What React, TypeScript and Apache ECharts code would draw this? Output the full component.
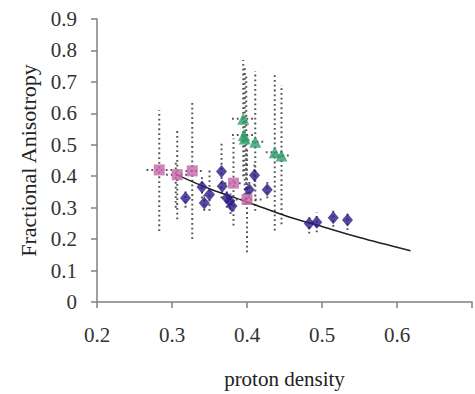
import React, { useEffect, useRef } from "react";
import * as echarts from "echarts";

// x, y values
const blueDiamonds: [number, number][] = [
  [0.318, 0.331], [0.34, 0.366], [0.35, 0.342], [0.343, 0.315],
  [0.366, 0.415], [0.367, 0.368], [0.373, 0.331], [0.377, 0.321],
  [0.38, 0.305], [0.41, 0.403], [0.403, 0.357], [0.427, 0.357],
  [0.483, 0.25], [0.493, 0.254], [0.515, 0.268], [0.534, 0.261],
];
const pinkSquares: [number, number][] = [
  [0.283, 0.42], [0.307, 0.405], [0.327, 0.417], [0.382, 0.378], [0.4, 0.326],
];
const greenTriangles: [number, number][] = [
  [0.395, 0.583], [0.396, 0.531], [0.397, 0.52], [0.411, 0.51], [0.437, 0.476], [0.446, 0.466],
];
// vertical error bars: x, low, high
const vBars: [number, number, number][] = [
  [0.283, 0.226, 0.61], [0.307, 0.263, 0.552], [0.305, 0.3, 0.45], [0.327, 0.2, 0.634],
  [0.382, 0.243, 0.52], [0.4, 0.158, 0.49],
  [0.395, 0.4, 0.77], [0.397, 0.31, 0.75], [0.399, 0.33, 0.72], [0.411, 0.29, 0.735],
  [0.437, 0.227, 0.725], [0.446, 0.247, 0.69],
  [0.318, 0.3, 0.36], [0.34, 0.33, 0.405], [0.35, 0.29, 0.42], [0.343, 0.29, 0.34],
  [0.366, 0.33, 0.505], [0.373, 0.3, 0.36], [0.378, 0.28, 0.345],
  [0.41, 0.37, 0.44], [0.403, 0.33, 0.385], [0.427, 0.33, 0.39],
  [0.483, 0.218, 0.273], [0.493, 0.222, 0.285], [0.515, 0.239, 0.297], [0.534, 0.229, 0.289],
];
// horizontal error bars: y, low, high
const hBars: [number, number, number][] = [
  [0.42, 0.266, 0.3], [0.405, 0.292, 0.322], [0.417, 0.318, 0.34],
  [0.583, 0.38, 0.41], [0.531, 0.38, 0.412], [0.51, 0.4, 0.425],
  [0.476, 0.425, 0.45], [0.466, 0.434, 0.458],
  [0.378, 0.37, 0.395], [0.326, 0.385, 0.42],
];
// fitted curve
const fitLine: [number, number][] = [
  [0.306, 0.405], [0.35, 0.36], [0.404, 0.315], [0.454, 0.272],
  [0.5, 0.24], [0.55, 0.205], [0.618, 0.163],
];
const xTicks = [0.2, 0.3, 0.4, 0.5, 0.6];
const yTicks = [0, 0.1, 0.2, 0.3, 0.4, 0.5, 0.6, 0.7, 0.8, 0.9];

const FONT = "'Liberation Serif', 'DejaVu Serif', serif";

export default function App() {
  const ref = useRef<HTMLDivElement>(null);
  useEffect(() => {
    if (!ref.current) return;
    const chart = echarts.init(ref.current, undefined, { renderer: "svg" });
    const dotStyle = { stroke: "#555", lineWidth: 2, lineDash: [1.8, 3] };
    chart.setOption({
      animation: false,
      backgroundColor: "#fff",
      grid: { left: 97, top: 19, right: -22, bottom: 89 },
      xAxis: {
        type: "value",
        min: xTicks[0],
        max: 0.7,
        interval: 0.1,
        name: "proton density",
        nameLocation: "middle",
        nameGap: 66,
        nameTextStyle: { fontFamily: FONT, fontSize: 21, color: "#222" },
        axisLine: { show: true, lineStyle: { color: "#808080", width: 1.5 } },
        axisTick: { show: true, length: 6, lineStyle: { color: "#808080", width: 1.5 } },
        axisLabel: {
          fontFamily: FONT, fontSize: 21, color: "#333", margin: 22,
          formatter: (v: number) => (xTicks.some((t) => Math.abs(t - v) < 1e-6) ? v.toFixed(1) : ""),
        },
        splitLine: { show: false },
      },
      yAxis: {
        type: "value",
        min: yTicks[0],
        max: yTicks[yTicks.length - 1],
        interval: 0.1,
        name: "Fractional Anisotropy",
        nameLocation: "middle",
        nameGap: 58,
        nameTextStyle: { fontFamily: FONT, fontSize: 22, color: "#222" },
        axisLine: { show: true, lineStyle: { color: "#808080", width: 1.5 } },
        axisTick: { show: true, length: 6, lineStyle: { color: "#808080", width: 1.5 } },
        axisLabel: {
          fontFamily: FONT, fontSize: 21, color: "#333", margin: 20,
          formatter: (v: number) => (Math.abs(v) < 1e-9 ? "0" : v.toFixed(1)),
        },
        splitLine: { show: false },
      },
      series: [
        {
          type: "custom",
          name: "vbars",
          data: vBars,
          encode: { x: 0, y: [1, 2] },
          renderItem: (params: any, api: any) => {
            const a = api.coord([api.value(0), api.value(1)]);
            const b = api.coord([api.value(0), api.value(2)]);
            return { type: "line", shape: { x1: a[0], y1: a[1], x2: b[0], y2: b[1] }, style: dotStyle };
          },
          z: 1,
        },
        {
          type: "custom",
          name: "hbars",
          data: hBars,
          encode: { y: 0, x: [1, 2] },
          renderItem: (params: any, api: any) => {
            const a = api.coord([api.value(1), api.value(0)]);
            const b = api.coord([api.value(2), api.value(0)]);
            return { type: "line", shape: { x1: a[0], y1: a[1], x2: b[0], y2: b[1] }, style: dotStyle };
          },
          z: 1,
        },
        {
          type: "line",
          data: fitLine,
          smooth: 0.3,
          showSymbol: false,
          lineStyle: { color: "#222", width: 1.5 },
          z: 2,
        },
        {
          type: "scatter",
          data: blueDiamonds,
          symbol: "diamond",
          symbolSize: [11, 13],
          itemStyle: { color: "#2a1c86" },
          z: 3,
        },
        {
          type: "scatter",
          data: pinkSquares,
          symbol: "rect",
          symbolSize: 11,
          itemStyle: { color: "#c565a9" },
          z: 3,
        },
        {
          type: "scatter",
          data: greenTriangles,
          symbol: "triangle",
          symbolSize: 12,
          itemStyle: { color: "#2e9e6a" },
          z: 3,
        },
      ],
    });
    return () => chart.dispose();
  }, []);
  return (
    <div
      ref={ref}
      style={{ position: "fixed", left: 0, top: 0, width: 475, height: 394, background: "#fff" }}
    />
  );
}
